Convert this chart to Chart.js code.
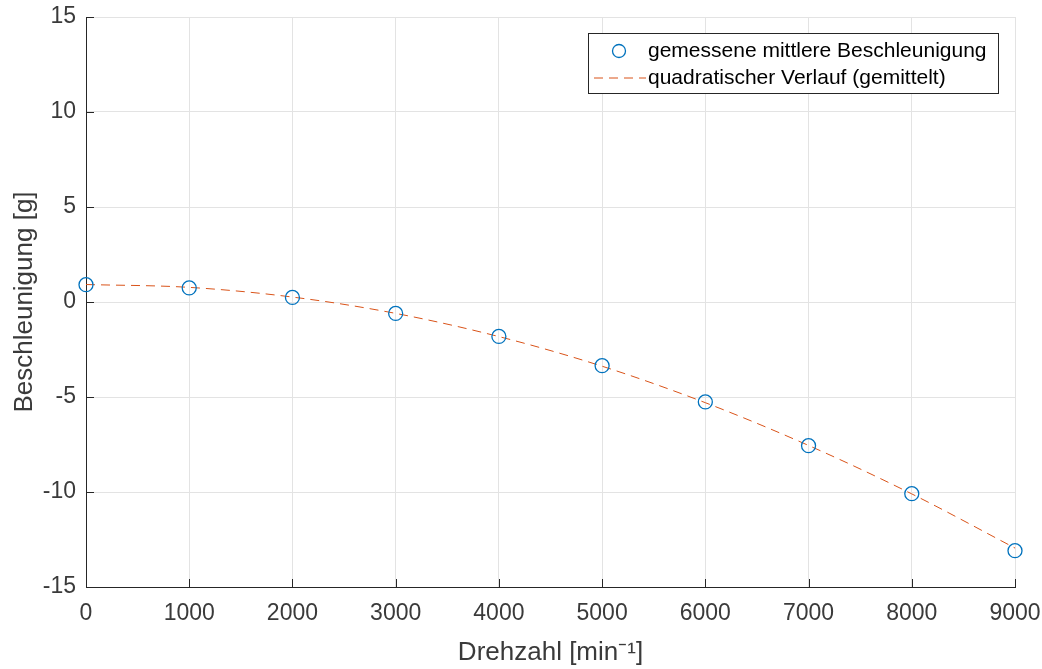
<!DOCTYPE html>
<html>
<head>
<meta charset="utf-8">
<script src="https://cdn.jsdelivr.net/npm/chart.js@4/dist/chart.umd.min.js"></script>
<style>
  html, body { margin: 0; padding: 0; background: #fff; }
  #wrap { width: 1042px; height: 669px; }
</style>
</head>
<body>
<div id="wrap"><canvas id="grafico"></canvas></div>
<script>
// Messwerte
var drehzahl = [0, 1000, 2000, 3000, 4000, 5000, 6000, 7000, 8000, 9000];
var beschleunigung = [0.91, 0.74, 0.24, -0.6, -1.81, -3.35, -5.26, -7.56, -10.09, -13.09];
// quadratischer Verlauf
var verlauf = [0.92, 0.77, 0.26, -0.6, -1.82, -3.38, -5.3, -7.55, -10.1, -12.95];

var xTicks = [0, 1000, 2000, 3000, 4000, 5000, 6000, 7000, 8000, 9000];
var yTicks = [-15, -10, -5, 0, 5, 10, 15];

var farbeAchse = '#262626';
var farbeText = '#3a3a3a';
var schrift = "'Liberation Sans', Arial, Helvetica, sans-serif";

// legende innen oben rechts mit rahmen (wie matlab)
var legendePlugin = {
    id: 'legendeInnen',
    afterDraw: function (chart) {
        var ctx = chart.ctx;
        var area = chart.chartArea;
        var w = 410, h = 60;
        var x0 = Math.round(area.right - 17 - w);
        var y0 = Math.round(area.top + 16);
        ctx.save();
        ctx.fillStyle = '#fff';
        ctx.fillRect(x0, y0, w, h);
        ctx.strokeStyle = farbeAchse;
        ctx.lineWidth = 1;
        ctx.strokeRect(x0 + 0.5, y0 + 0.5, w, h);

        var ds = chart.data.datasets;
        // zeile 1: kreis
        ctx.beginPath();
        ctx.arc(x0 + 31, y0 + 18, 6.5, 0, Math.PI * 2);
        ctx.strokeStyle = ds[0].borderColor;
        ctx.lineWidth = 1.3;
        ctx.stroke();
        // zeile 2: gestrichelte linie
        ctx.beginPath();
        ctx.setLineDash([9, 6]);
        ctx.moveTo(x0 + 6, y0 + 45);
        ctx.lineTo(x0 + 58, y0 + 45);
        ctx.strokeStyle = ds[1].borderColor;
        ctx.lineWidth = 1;
        ctx.stroke();
        ctx.setLineDash([]);

        ctx.fillStyle = '#000';
        ctx.font = '21px ' + schrift;
        ctx.textBaseline = 'middle';
        ctx.textAlign = 'left';
        ctx.fillText(ds[0].label, x0 + 60, y0 + 18);
        ctx.fillText(ds[1].label, x0 + 60, y0 + 45);
        ctx.restore();
    }
};

// kurze tick-striche nach innen
var tickPlugin = {
    id: 'tickInnen',
    afterDatasetsDraw: function (chart) {
        var ctx = chart.ctx;
        var area = chart.chartArea;
        var sx = chart.scales.x, sy = chart.scales.y;
        ctx.save();
        ctx.strokeStyle = farbeAchse;
        ctx.lineWidth = 1;
        ctx.beginPath();
        xTicks.forEach(function (v) {
            var px = Math.round(sx.getPixelForValue(v)) + 0.5;
            ctx.moveTo(px, area.bottom);
            ctx.lineTo(px, area.bottom - 8);
        });
        yTicks.forEach(function (v) {
            var py = Math.round(sy.getPixelForValue(v)) + 0.5;
            ctx.moveTo(area.left, py);
            ctx.lineTo(area.left + 8, py);
        });
        ctx.stroke();
        ctx.restore();
    }
};

var ctx = document.getElementById('grafico');

var myChart = new Chart(ctx, {
    type: 'scatter',
    data: {
        datasets: [{
            label: 'gemessene mittlere Beschleunigung',
            data: drehzahl.map(function (d, i) { return { x: d, y: beschleunigung[i] }; }),
            borderColor: '#0072BD',
            backgroundColor: 'rgba(0,0,0,0)',
            pointRadius: 7,
            pointBorderWidth: 1.3,
            showLine: false,
            clip: false,
            order: 1
        }, {
            label: 'quadratischer Verlauf (gemittelt)',
            data: drehzahl.map(function (d, i) { return { x: d, y: verlauf[i] }; }),
            borderColor: '#D95319',
            borderWidth: 1,
            borderDash: [9, 6],
            pointRadius: 0,
            showLine: true,
            cubicInterpolationMode: 'monotone',
            fill: false,
            order: 2
        }]
    },
    options: {
        responsive: true,
        maintainAspectRatio: false,
        animation: false,
        layout: {
            padding: { top: 17, right: 27, left: 0, bottom: 0 }
        },
        plugins: {
            legend: { display: false },
            tooltip: { enabled: false }
        },
        scales: {
            x: {
                type: 'linear',
                min: 0,
                max: 9000,
                afterBuildTicks: function (scale) {
                    scale.ticks = xTicks.map(function (v) { return { value: v }; });
                },
                ticks: {
                    color: farbeText,
                    font: { family: schrift, size: 23 },
                    padding: 13,
                    maxRotation: 0,
                    callback: function (v) { return String(v); }
                },
                grid: { color: '#e3e3e3', drawTicks: false },
                border: { display: true, color: farbeAchse, width: 1 },
                title: {
                    display: true,
                    text: 'Drehzahl [min⁻¹]',
                    color: farbeText,
                    font: { family: schrift, size: 26 },
                    padding: { top: 0, bottom: 1 }
                },
                afterFit: function (scale) {
                    scale.height = 82;
                    scale.paddingLeft = 0;
                    scale.paddingRight = 0;
                }
            },
            y: {
                type: 'linear',
                min: -15,
                max: 15,
                afterBuildTicks: function (scale) {
                    scale.ticks = yTicks.map(function (v) { return { value: v }; });
                },
                ticks: {
                    color: farbeText,
                    font: { family: schrift, size: 23 },
                    padding: 10,
                    callback: function (v) { return String(v); }
                },
                grid: { color: '#e3e3e3', drawTicks: false },
                border: { display: true, color: farbeAchse, width: 1 },
                title: {
                    display: true,
                    text: 'Beschleunigung [g]',
                    color: farbeText,
                    font: { family: schrift, size: 26 },
                    padding: { top: 9, bottom: 0 }
                },
                afterFit: function (scale) {
                    scale.width = 86;
                    scale.paddingTop = 0;
                    scale.paddingBottom = 0;
                }
            }
        }
    },
    plugins: [legendePlugin, tickPlugin]
});
</script>
</body>
</html>
